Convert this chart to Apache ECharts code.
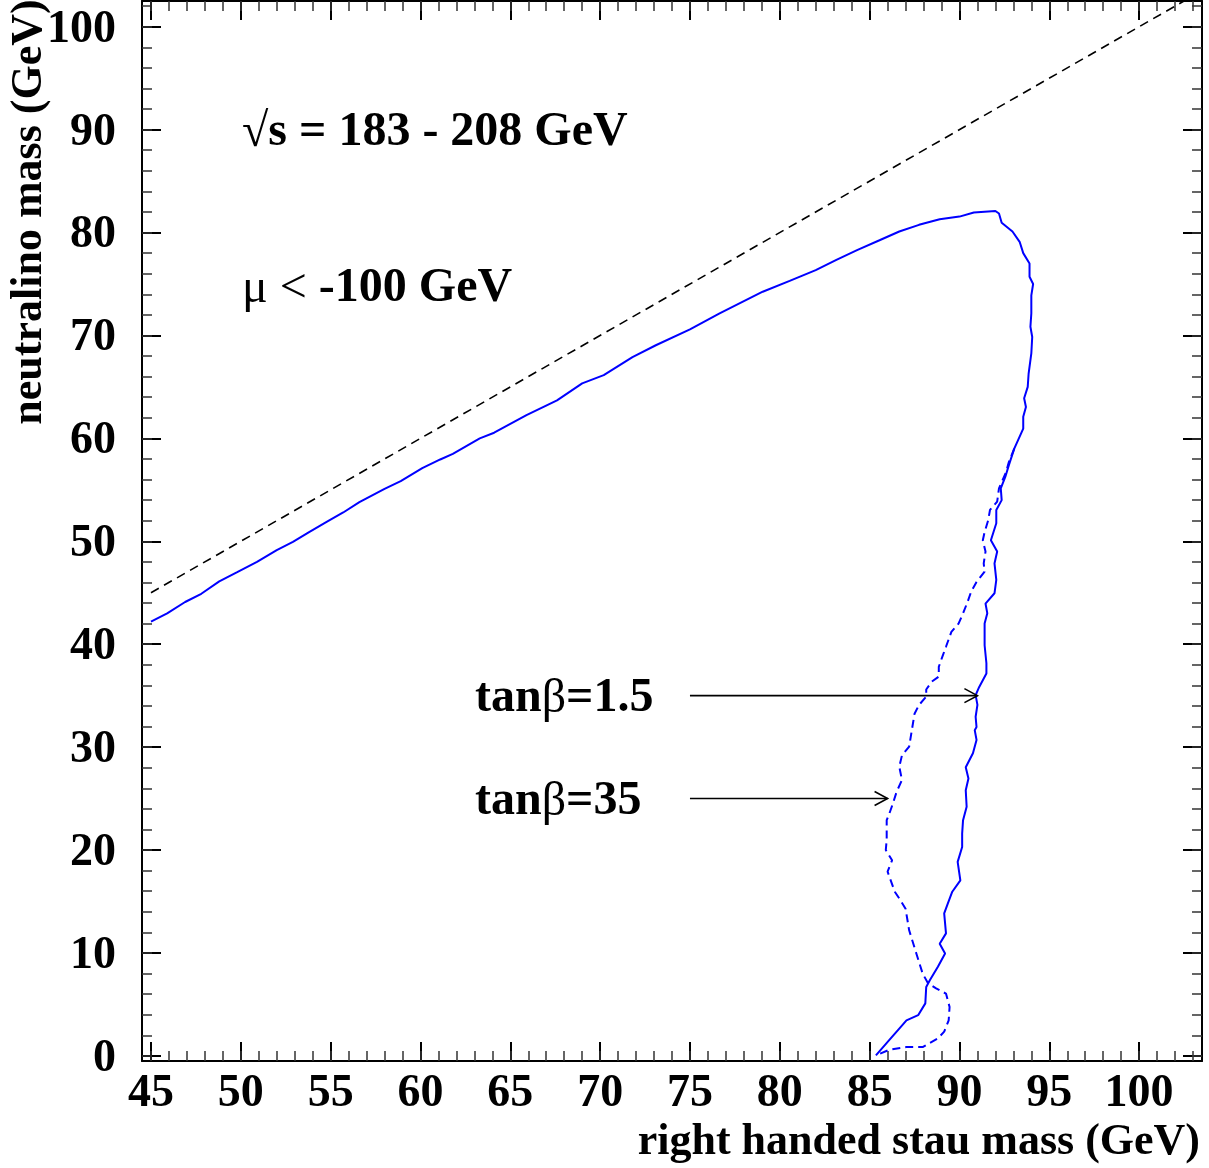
<!DOCTYPE html>
<html>
<head>
<meta charset="utf-8">
<script src="https://cdn.jsdelivr.net/npm/echarts@6/dist/echarts.min.js"></script>
<style>
  html, body { margin: 0; padding: 0; background: #fff; }
  #chart { width: 1209px; height: 1168px; }
</style>
</head>
<body>
<div id="chart"></div>
<script>
// Excluded region boundary in the (stau mass, neutralino mass) plane, tan(beta) = 1.5
const tanb15Boundary = [
  [45.0,42.2],[45.9,43.0],[46.9,44.1],[47.8,44.9],[48.8,46.1],[49.8,47.0],[50.9,48.0],
  [52.0,49.15],[52.9,49.95],[53.8,50.9],[54.8,51.9],[55.7,52.8],[56.6,53.8],[58.0,55.1],
  [58.9,55.85],[60.1,57.1],[61.1,57.95],[61.8,58.5],[63.3,60.0],[64.1,60.55],[65.9,62.25],
  [67.6,63.7],[69.0,65.35],[70.2,66.15],[71.8,67.9],[73.1,69.05],[75.0,70.6],[76.65,72.15],
  [79.05,74.25],[80.55,75.3],[82.0,76.35],[83.15,77.35],[84.3,78.3],[85.55,79.25],
  [86.65,80.1],[87.75,80.75],[88.9,81.3],[90.0,81.55],[90.8,81.95],[92.0,82.1],[92.2,81.85],
  [92.35,80.95],[92.95,80.1],[93.35,79.1],[93.55,78.0],[93.9,77.0],[93.9,75.7],[94.1,75.0],
  [94.0,73.9],[94.0,72.15],[93.95,70.85],[94.05,69.85],[94.0,68.25],[93.85,66.3],[93.8,65.0],
  [93.6,63.9],[93.7,63.05],[93.55,62.1],[93.55,60.95],[93.05,59.0],[92.75,57.4],[92.55,56.25],
  [92.3,55.15],[92.35,54.0],[92.05,53.05],[92.05,51.75],[91.75,50.1],[92.1,49.0],[91.95,47.85],
  [92.05,46.25],[91.95,44.95],[91.45,43.95],[91.55,43.0],[91.4,42.0],[91.4,39.9],[91.5,38.15],
  [91.5,37.15],[91.1,35.85],[90.9,35.05],[91.0,34.1],[90.9,32.95],[90.95,31.95],[90.85,31.65],
  [90.95,30.7],[90.75,29.4],[90.35,28.05],[90.5,26.95],[90.35,25.8],[90.4,24.2],[90.2,22.9],
  [90.15,21.6],[90.15,20.3],[89.9,18.85],[90.05,17.05],[89.6,15.95],[89.35,14.8],[89.15,13.85],
  [89.25,11.9],[88.9,10.9],[89.2,9.95],[88.8,8.65],[88.35,7.35],[88.15,6.7],[88.1,5.1],
  [87.7,3.95],[87.05,3.45],[86.65,2.65],[86.1,1.55],[85.35,0.05]
];

// Lower branch of the boundary for tan(beta) = 35 (upper part coincides with tan(beta) = 1.5)
const tanb35Boundary = [
  [93.05,59.0],[92.75,57.7],[92.6,56.75],[92.4,55.95],[92.2,55.15],[92.1,53.85],[91.7,53.05],
  [91.6,52.05],[91.4,50.9],[91.3,50.1],[91.45,49.0],[91.35,47.85],[91.4,47.05],[90.95,46.05],
  [90.65,45.1],[90.45,44.1],[90.2,43.0],[89.95,42.0],[89.55,41.2],[89.25,39.75],[89.05,38.8],
  [88.85,37.8],[88.85,36.85],[88.45,36.35],[88.15,35.6],[88.15,34.9],[87.75,34.1],[87.5,33.25],
  [87.35,31.65],[87.2,30.05],[86.8,29.2],[86.65,28.1],[86.8,26.8],[86.5,25.65],[86.3,24.55],
  [86.1,23.55],[85.95,22.9],[85.95,21.0],[85.9,20.0],[86.25,19.0],[86.0,17.9],[86.4,15.95],
  [86.65,15.3],[87.0,14.3],[87.2,12.2],[87.6,9.95],[87.95,8.0],[88.25,7.05],[88.7,6.55],
  [89.25,6.05],[89.45,4.75],[89.4,3.45],[89.15,2.35],[88.8,1.7],[87.95,0.85],[87.05,0.85],
  [86.1,0.6],[85.35,0.05]
];

// Kinematic limit: neutralino mass = stau mass
const kinematicLimit = [[45, 45], [102.5, 102.5]];

// Label arrows: [x start, y, x tip]
const labelArrows = [[75, 35, 91.0], [75, 25, 86.0]];

// Axis ticks
const xMajorTicks = [45, 50, 55, 60, 65, 70, 75, 80, 85, 90, 95, 100];
const xMinorTicks = [45,46,47,48,49,50,51,52,53,54,55,56,57,58,59,60,61,62,63,64,65,66,67,68,69,70,
  71,72,73,74,75,76,77,78,79,80,81,82,83,84,85,86,87,88,89,90,91,92,93,94,95,96,97,98,99,100,101,102,103];
const yMajorTicks = [0, 10, 20, 30, 40, 50, 60, 70, 80, 90, 100];
const yMinorTicks = [0,2,4,6,8,10,12,14,16,18,20,22,24,26,28,30,32,34,36,38,40,42,44,46,48,50,
  52,54,56,58,60,62,64,66,68,70,72,74,76,78,80,82,84,86,88,90,92,94,96,98,100,102];

const X_MIN = 44.5, X_MAX = 103.5, Y_MIN = -0.5, Y_MAX = 102.5;
const FONT = "'Liberation Serif', 'Times New Roman', serif";

function axisSet(dim, position, majors, minors, withLabels) {
  const isX = dim === 'x';
  const base = {
    type: 'value',
    min: isX ? X_MIN : Y_MIN,
    max: isX ? X_MAX : Y_MAX,
    position: position,
    splitLine: { show: false }
  };
  const labelText = { color: '#000', fontFamily: FONT, fontWeight: 'bold', fontSize: 46 };
  const major = Object.assign({}, base, {
    axisLine: { show: true, onZero: false, lineStyle: { color: '#000', width: 2 } },
    axisTick: { show: true, inside: true, length: 19, customValues: majors,
                lineStyle: { color: '#000', width: 2 } },
    axisLabel: withLabels ? Object.assign({
      show: true, customValues: majors,
      margin: isX ? 33 : 26,
      verticalAlign: 'middle',
      formatter: '{t|{value}}',
      rich: { t: Object.assign({ padding: isX ? 0 : [6, 0, 0, 0] }, labelText) }
    }, labelText) : { show: false }
  });
  const minor = Object.assign({}, base, {
    axisLine: { show: false, onZero: false },
    axisTick: { show: true, inside: true, length: 10, customValues: minors,
                lineStyle: { color: '#333', width: 1.5 } },
    axisLabel: { show: false }
  });
  return [major, minor];
}

// Text with symbol glyphs drawn in normal weight, as in a Symbol font
const richStyles = {
  b: { fontFamily: FONT, fontWeight: 'bold', fontSize: 48, fill: '#000', color: '#000' },
  s: { fontFamily: FONT, fontWeight: 'normal', fontSize: 48, fill: '#000', color: '#000' }
};
function annotation(x, y, text) {
  return {
    type: 'text', x: x, y: y,
    style: {
      text: text, rich: richStyles, font: 'bold 48px ' + FONT, fill: '#000',
      textAlign: 'left', textVerticalAlign: 'middle', align: 'left', verticalAlign: 'middle'
    }
  };
}

const chart = echarts.init(document.getElementById('chart'));

chart.setOption({
  backgroundColor: '#fff',
  animation: false,
  grid: { left: 142, right: 7, top: 1, bottom: 107, containLabel: false },
  xAxis: [
    ...axisSet('x', 'bottom', xMajorTicks, xMinorTicks, true),
    ...axisSet('x', 'top', xMajorTicks, xMinorTicks, false)
  ],
  yAxis: [
    ...axisSet('y', 'left', yMajorTicks, yMinorTicks, true),
    ...axisSet('y', 'right', yMajorTicks, yMinorTicks, false)
  ],
  series: [
    {
      type: 'line', name: 'limit', data: kinematicLimit, showSymbol: false, symbol: 'none',
      lineStyle: { color: '#000', width: 1.6, type: [9, 6] }, z: 2
    },
    {
      type: 'line', name: 'tanb=1.5', data: tanb15Boundary, showSymbol: false, symbol: 'none',
      lineStyle: { color: '#0000ff', width: 2 }, z: 3
    },
    {
      type: 'line', name: 'tanb=35', data: tanb35Boundary, showSymbol: false, symbol: 'none',
      lineStyle: { color: '#0000ff', width: 2, type: [8, 5] }, z: 3
    },
    {
      type: 'custom', name: 'arrows', data: labelArrows, z: 4,
      renderItem: function (params, api) {
        const p0 = api.coord([api.value(0), api.value(1)]);
        const p1 = api.coord([api.value(2), api.value(1)]);
        const style = { stroke: '#000', lineWidth: 1.6, fill: null };
        return {
          type: 'group',
          children: [
            { type: 'line', shape: { x1: p0[0], y1: p0[1], x2: p1[0], y2: p1[1] }, style: style },
            { type: 'polyline',
              shape: { points: [[p1[0] - 13, p1[1] - 7], [p1[0], p1[1]], [p1[0] - 13, p1[1] + 7]] },
              style: style }
          ]
        };
      }
    }
  ],
  graphic: [
    annotation(242, 133, '{s|\u221A}{b|s = 183 - 208 GeV}'),
    annotation(242, 289, '{s|\u03BC <}{b| -100 GeV}'),
    annotation(475, 699, '{b|tan}{s|\u03B2}{b|=1.5}'),
    annotation(475, 802, '{b|tan}{s|\u03B2}{b|=35}'),
    { type: 'text', x: 1200, y: 1143,
      style: { text: 'right handed stau mass (GeV)', font: 'bold 44px ' + FONT, fill: '#000',
               textAlign: 'right', textVerticalAlign: 'middle', align: 'right', verticalAlign: 'middle' } },
    { type: 'text', x: 30, y: 212, rotation: Math.PI / 2,
      style: { text: 'neutralino mass (GeV)', font: 'bold 44px ' + FONT, fill: '#000',
               textAlign: 'center', textVerticalAlign: 'middle', align: 'center', verticalAlign: 'middle' } }
  ]
});
</script>
</body>
</html>
